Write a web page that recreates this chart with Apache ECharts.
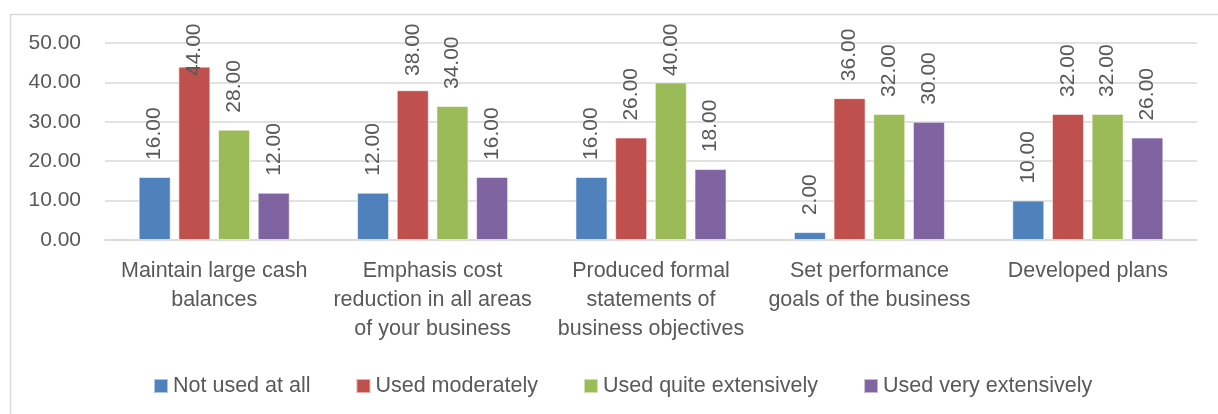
<!DOCTYPE html>
<html>
<head>
<meta charset="utf-8">
<script src="https://cdn.jsdelivr.net/npm/echarts@6/dist/echarts.min.js"></script>
<style>
  html, body { margin: 0; padding: 0; background: #ffffff; }
  #chart { width: 1218px; height: 414px; }
</style>
</head>
<body>
<div id="chart"></div>
<script>
// Survey categories (line breaks follow the wrapped axis labels)
const categories = [
  'Maintain large cash\nbalances',
  'Emphasis cost\nreduction in all areas\nof your business',
  'Produced formal\nstatements of\nbusiness objectives',
  'Set performance\ngoals of the business',
  'Developed plans'
];

const seriesNames = ['Not used at all', 'Used moderately', 'Used quite extensively', 'Used very extensively'];

const notUsed       = [16, 12, 16, 2, 10];
const moderately    = [44, 38, 26, 36, 32];
const quiteExtens   = [28, 34, 40, 32, 32];
const veryExtens    = [12, 16, 18, 30, 26];

const yTicks = { min: 0, max: 50, interval: 10 };

const colors = ['#4F81BD', '#C0504D', '#9BBB59', '#8064A2'];
const FONT = '"Liberation Sans", Arial, sans-serif';
const TEXT = '#595959';

const chart = echarts.init(document.getElementById('chart'));

function barSeries(name, data, color) {
  return {
    name: name,
    type: 'bar',
    data: data,
    barWidth: 32,
    barGap: '24%',
    itemStyle: { color: color, borderColor: 'rgba(255,255,255,0.55)', borderWidth: 1 },
    label: {
      show: true,
      position: 'top',
      distance: 17,
      rotate: 90,
      align: 'left',
      verticalAlign: 'middle',
      color: TEXT,
      fontFamily: FONT,
      fontSize: 21,
      formatter: p => p.value.toFixed(2)
    },
    // keep tall labels inside the plot area
    labelLayout: function (p) {
      return { y: Math.max(p.rect.y - 17, 76) };
    }
  };
}

const option = {
  animation: false,
  textStyle: { fontFamily: FONT },
  grid: { left: 105, right: 21, top: 43, bottom: 174 },
  legend: {
    data: seriesNames,
    left: 153,
    top: 375,
    padding: 0,
    itemWidth: 14,
    itemHeight: 14,
    itemGap: 45,
    icon: 'rect',
    textStyle: { color: TEXT, fontSize: 21.5, fontFamily: FONT }
  },
  xAxis: {
    type: 'category',
    data: categories,
    axisLine: { show: true, lineStyle: { color: '#D9D9D9', width: 1.5 } },
    axisTick: { show: false },
    axisLabel: {
      color: TEXT,
      fontSize: 21.5,
      fontFamily: FONT,
      lineHeight: 29,
      margin: 17,
      interval: 0
    }
  },
  yAxis: {
    type: 'value',
    min: yTicks.min,
    max: yTicks.max,
    interval: yTicks.interval,
    axisLine: { show: false },
    axisTick: { show: false },
    splitLine: { lineStyle: { color: '#D9D9D9', width: 1.5 } },
    axisLabel: {
      color: TEXT,
      fontSize: 21,
      fontFamily: FONT,
      margin: 24,
      formatter: v => v.toFixed(2)
    }
  },
  graphic: [
    { type: 'line', shape: { x1: 10, y1: 14.5, x2: 1218, y2: 14.5 }, style: { stroke: '#D9D9D9', lineWidth: 1.5 } },
    { type: 'line', shape: { x1: 10.5, y1: 14, x2: 10.5, y2: 414 }, style: { stroke: '#D9D9D9', lineWidth: 1.5 } }
  ],
  series: [
    barSeries(seriesNames[0], notUsed, colors[0]),
    barSeries(seriesNames[1], moderately, colors[1]),
    barSeries(seriesNames[2], quiteExtens, colors[2]),
    barSeries(seriesNames[3], veryExtens, colors[3])
  ]
};

chart.setOption(option);
</script>
</body>
</html>
